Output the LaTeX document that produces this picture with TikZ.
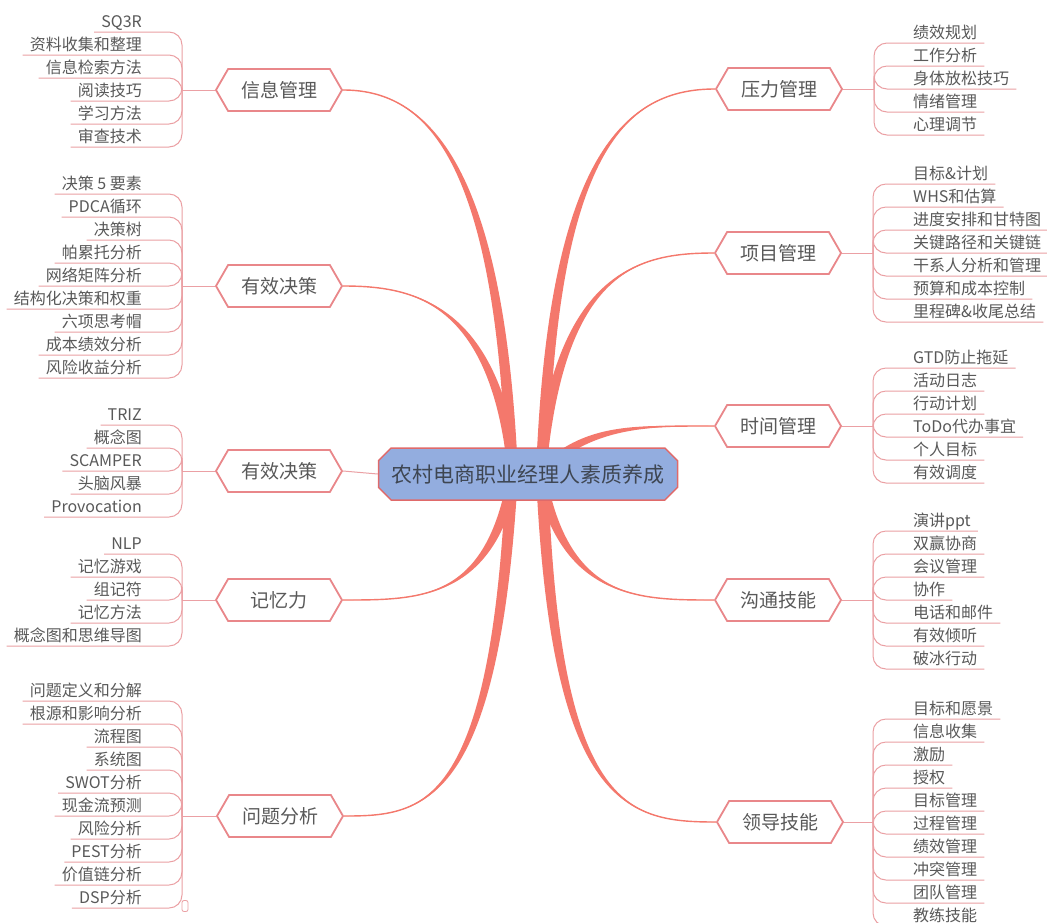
\documentclass[tikz,border=0pt]{standalone}
\usepackage{fontspec}
\setmainfont{Noto Sans CJK SC}
\usetikzlibrary{calc,shapes.misc,shapes.symbols}
\definecolor{txt}{HTML}{595959}
\definecolor{thinc}{HTML}{EBA0A4}
\definecolor{thickc}{HTML}{F4786C}
\definecolor{hexb}{HTML}{E9878A}
\definecolor{cfill}{HTML}{93ADDF}
\definecolor{cbord}{HTML}{E06A6A}
\definecolor{ctxt}{HTML}{3E4652}
\pgfdeclarelayer{bg}
\pgfsetlayers{bg,main}
\tikzset{
 leafL/.style={anchor=south east, inner xsep=7pt, inner ysep=1.5pt, text height=13pt, text depth=3pt, font=\fontsize{16}{16}\selectfont, text=txt},
 leafR/.style={anchor=south west, inner xsep=7pt, inner ysep=1.5pt, text height=13pt, text depth=3pt, font=\fontsize{16}{16}\selectfont, text=txt},
 leafline/.style={draw=thinc, line width=1pt, rounded corners=13pt},
 branchbox/.style={shape=signal, signal to=west and east, signal pointer angle=120, draw=hexb, line width=1.8pt, fill=white, minimum width=126pt, minimum height=42pt, inner sep=0pt, font=\fontsize{19}{19}\selectfont, text=txt},
 centerbox/.style={chamfered rectangle, chamfered rectangle xsep=9pt, draw=cbord, line width=1.5pt, fill=cfill, text width=273pt, align=left, inner xsep=4pt, minimum height=52pt, font=\fontsize{21}{21}\selectfont, text=ctxt},
}
\newcommand\taper[6]{%
 \fill[thickc] ($#1+(#5,#6)$) .. controls ($#2+(#5*0.65,#6*0.65)$) and #3 .. #4 .. controls #3 and ($#2-(#5*0.65,#6*0.65)$) .. ($#1-(#5,#6)$) -- cycle;
 \draw[thickc, line width=1.4pt] #1 .. controls #2 and #3 .. #4;
}
\begin{document}
\begin{tikzpicture}[x=1pt,y=-1pt]
\useasboundingbox (0,0) rectangle (1047,922);
\begin{pgfonlayer}{bg}
\fill[white] (0,0) rectangle (1047,922);
\end{pgfonlayer}
\clip (0,0) rectangle (1047,922);

% central node
\node[centerbox] (C) at (528,474) {农村电商职业经理人素质养成};

% branch nodes
\node[branchbox] (A) at (279,90) {信息管理};
\node[branchbox] (B) at (279,286) {有效决策};
\node[branchbox] (Cb) at (279,471) {有效决策};
\node[branchbox] (D) at (279,600) {记忆力};
\node[branchbox] (E) at (280,816) {问题分析};
\node[branchbox] (F) at (779,89) {压力管理};
\node[branchbox] (G) at (778,253) {项目管理};
\node[branchbox] (H) at (778,426) {时间管理};
\node[branchbox] (I) at (778,600) {沟通技能};
\node[branchbox] (J) at (780,822) {领导技能};

% junctions
\coordinate (jA) at (182,90);
\coordinate (jB) at (182,286);
\coordinate (jC) at (182,471);
\coordinate (jD) at (182,600);
\coordinate (jE) at (182,816);
\coordinate (jF) at (874,89);
\coordinate (jG) at (873,253);
\coordinate (jH) at (873,426);
\coordinate (jI) at (873,600);
\coordinate (jJ) at (873,822);

\begin{pgfonlayer}{bg}
 \foreach \b/\j in {A/jA,B/jB,Cb/jC,D/jD,E/jE}{\draw[leafline] (\b.west) -- (\j);}
 \foreach \b/\j in {F/jF,G/jG,H/jH,I/jI,J/jJ}{\draw[leafline] (\b.east) -- (\j);}
 \draw[leafline] (C.west) -- (Cb.east);
 % thick curves
 \coordinate (s1) at (512,474);
 \coordinate (s2) at (514,474);
 \coordinate (s3) at (542,474);
 \coordinate (s4) at (540,474);
 \coordinate (s5) at (556,458);
 \coordinate (s7) at (514,474);
 \coordinate (s8) at (540,474);
 \coordinate (s9) at (512,474);
 \coordinate (s10) at (542,474);
 \taper{(s1)}{(500,150)}{($(A.east)+(78,0)$)}{(A.east)}{6}{0}
 \taper{(s2)}{(495,300)}{($(B.east)+(68,0)$)}{(B.east)}{6}{0}
 \taper{(s3)}{(552,150)}{($(F.west)+(-88,0)$)}{(F.west)}{6}{0}
 \taper{(s4)}{(560,270)}{($(G.west)+(-76,0)$)}{(G.west)}{6}{0}
 \taper{(s5)}{(600,425)}{($(H.west)+(-66,0)$)}{(H.west)}{0}{5}
 \taper{(s7)}{(490,600)}{($(D.east)+(78,0)$)}{(D.east)}{6}{0}
 \taper{(s8)}{(565,600)}{($(I.west)+(-76,0)$)}{(I.west)}{6}{0}
 \taper{(s9)}{(495,810)}{($(E.east)+(78,0)$)}{(E.east)}{6}{0}
 \taper{(s10)}{(555,810)}{($(J.west)+(-88,0)$)}{(J.west)}{6}{0}
\end{pgfonlayer}

% leaves left
\foreach \t/\y [count=\i] in {SQ3R/32,资料收集和整理/55,信息检索方法/78,阅读技巧/101,学习方法/124,审查技术/147}
 {\node[leafL] (a\i) at (149,\y) {\t}; \draw[leafline] (jA) |- (a\i.south west);}
\foreach \t/\y [count=\i] in {决策 5 要素/194,PDCA循环/217,决策树/240,帕累托分析/263,网络矩阵分析/286,结构化决策和权重/309,六项思考帽/332,成本绩效分析/355,风险收益分析/378}
 {\node[leafL] (b\i) at (149,\y) {\t}; \draw[leafline] (jB) |- (b\i.south west);}
\foreach \t/\y [count=\i] in {TRIZ/425,概念图/448,SCAMPER/471,头脑风暴/494,Provocation/517}
 {\node[leafL] (c\i) at (149,\y) {\t}; \draw[leafline] (jC) |- (c\i.south west);}
\foreach \t/\y [count=\i] in {NLP/554,记忆游戏/577,组记符/600,记忆方法/623,概念图和思维导图/646}
 {\node[leafL] (d\i) at (149,\y) {\t}; \draw[leafline] (jD) |- (d\i.south west);}
\foreach \t/\y [count=\i] in {问题定义和分解/701,根源和影响分析/724,流程图/747,系统图/770,SWOT分析/793,现金流预测/816,风险分析/839,PEST分析/862,价值链分析/885,DSP分析/908}
 {\node[leafL] (e\i) at (149,\y) {\t}; \draw[leafline] (jE) |- (e\i.south west);}
\node[draw=thinc, line width=0.8pt, rounded corners=2pt, minimum width=6pt, minimum height=11pt, inner sep=0pt] (ecol) at (185,906) {};

% leaves right
\foreach \t/\y [count=\i] in {绩效规划/43,工作分析/66,身体放松技巧/89,情绪管理/112,心理调节/135}
 {\node[leafR] (f\i) at (906,\y) {\t}; \draw[leafline] (jF) |- (f\i.south east);}
\foreach \t/\y [count=\i] in {目标\&计划/184,WHS和估算/207,进度安排和甘特图/230,关键路径和关键链/253,干系人分析和管理/276,预算和成本控制/299,里程碑\&收尾总结/322}
 {\node[leafR] (g\i) at (906,\y) {\t}; \draw[leafline] (jG) |- (g\i.south east);}
\foreach \t/\y [count=\i] in {GTD防止拖延/368,活动日志/391,行动计划/414,ToDo代办事宜/437,个人目标/460,有效调度/483}
 {\node[leafR] (h\i) at (906,\y) {\t}; \draw[leafline] (jH) |- (h\i.south east);}
\foreach \t/\y [count=\i] in {演讲ppt/531,双赢协商/554,会议管理/577,协作/600,电话和邮件/623,有效倾听/646,破冰行动/669}
 {\node[leafR] (i\i) at (906,\y) {\t}; \draw[leafline] (jI) |- (i\i.south east);}
\foreach \t/\y [count=\i] in {目标和愿景/719,信息收集/742,激励/765,授权/788,目标管理/811,过程管理/834,绩效管理/857,冲突管理/880,团队管理/903,教练技能/926}
 {\node[leafR] (k\i) at (906,\y) {\t}; \draw[leafline] (jJ) |- (k\i.south east);}
\end{tikzpicture}
\end{document}
